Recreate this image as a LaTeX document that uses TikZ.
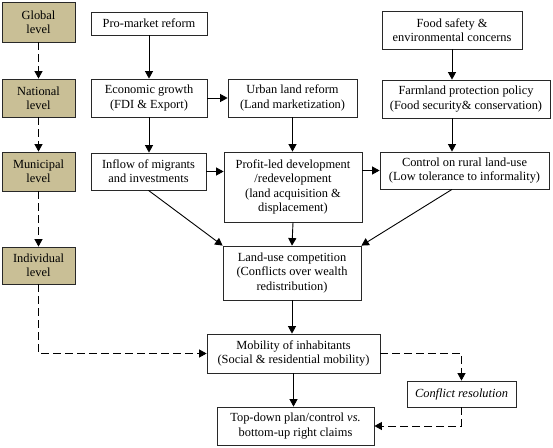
\documentclass[tikz,border=0pt]{standalone}
\usepackage{fontspec}
\setmainfont{Liberation Serif}
\usetikzlibrary{arrows.meta}
\definecolor{levelfill}{RGB}{201,191,150}
\definecolor{boxline}{RGB}{40,40,40}
\begin{document}
\begin{tikzpicture}[x=1pt,y=-1pt,
  every node/.style={font=\fontsize{12.4}{14.3}\selectfont, align=center, inner sep=0pt},
  box/.style={draw=boxline, line width=0.8pt, fill=white},
  levelbox/.style={draw=boxline, line width=0.8pt, fill=levelfill, minimum width=73pt},
  arr/.style={line width=0.9pt, -{Triangle[length=7.5pt,width=8pt]}},
  darr/.style={arr, dash pattern=on 8pt off 4pt}
]
\useasboundingbox (0,0) rectangle (553,447);
% level boxes
\node[levelbox, minimum height=40pt] (glob) at (38.5,22) {Global\\level};
\node[levelbox, minimum height=38pt] (nat) at (38.5,98) {National\\level};
\node[levelbox, minimum height=39pt] (mun) at (38.5,171.5) {Municipal\\level};
\node[levelbox, minimum height=37pt] (ind) at (38.5,265.5) {Individual\\level};
% content boxes
\node[box, minimum width=116pt, minimum height=23pt] (pro) at (149,23.5) {Pro-market reform};
\node[box, minimum width=116pt, minimum height=38pt] (eco) at (149,98) {Economic growth\\(FDI \& Export)};
\node[box, minimum width=129pt, minimum height=38pt] (urb) at (292.5,98) {Urban land reform\\(Land marketization)};
\node[box, minimum width=115pt, minimum height=37pt] (inf) at (148.5,171.5) {Inflow of migrants\\and investments};
\node[box, minimum width=138pt, minimum height=70pt] (pro2) at (293,187) {Profit-led development\\/redevelopment\\(land acquisition \&\\displacement)};
\node[box, minimum width=140pt, minimum height=38pt] (food) at (452,30) {Food safety \&\\environmental concerns};
\node[box, minimum width=168pt, minimum height=38pt] (farm) at (466,99) {Farmland protection policy\\(Food security\& conservation)};
\node[box, minimum width=169pt, minimum height=37pt] (ctrl) at (464.5,170.5) {Control on rural land-use\\(Low tolerance to informality)};
\node[box, minimum width=138pt, minimum height=54pt] (land) at (292,273) {Land-use competition\\(Conflicts over wealth\\redistribution)};
\node[box, minimum width=173pt, minimum height=39pt] (mob) at (293.5,353.5) {Mobility of inhabitants\\(Social \& residential mobility)};
\node[box, minimum width=109pt, minimum height=26pt] (conf) at (461.5,394) {\textit{Conflict resolution}};
\node[box, minimum width=157pt, minimum height=38pt] (top) at (295.5,426) {Top-down plan/control \textit{vs.}\\bottom-up right claims};
% dashed level arrows
\draw[darr] (glob) -- (nat);
\draw[darr] (nat) -- (mun);
\draw[darr] (mun) -- (ind);
\draw[darr] (ind.south) |- (mob.west);
\draw[darr] (mob.east) -| (conf.north);
\draw[darr] (conf.south) |- (top.east);
% solid arrows
\draw[arr] (pro.south) -- (eco.north);
\draw[arr] (eco.east) -- (urb.west);
\draw[arr] (eco.south) -- (inf.north -| eco.south);
\draw[arr] (urb.south) -- (urb.south |- pro2.north);
\draw[arr] (food.south) -- (food.south |- farm.north);
\draw[arr] (food.south |- farm.south) -- (food.south |- ctrl.north);
\draw[arr] (inf.east) -- (inf.east -| pro2.west);
\draw[arr] (pro2.east |- ctrl.west) -- (ctrl.west);
\draw[arr] (inf.south) -- (land.north west);
\draw[arr] (food.south |- ctrl.south) -- (land.north east);
\draw[arr] (pro2.south) -- (land.north);
\draw[arr] (land.south) -- (land.south |- mob.north);
\draw[arr] (mob.south) -- (mob.south |- top.north);
\end{tikzpicture}
\end{document}
